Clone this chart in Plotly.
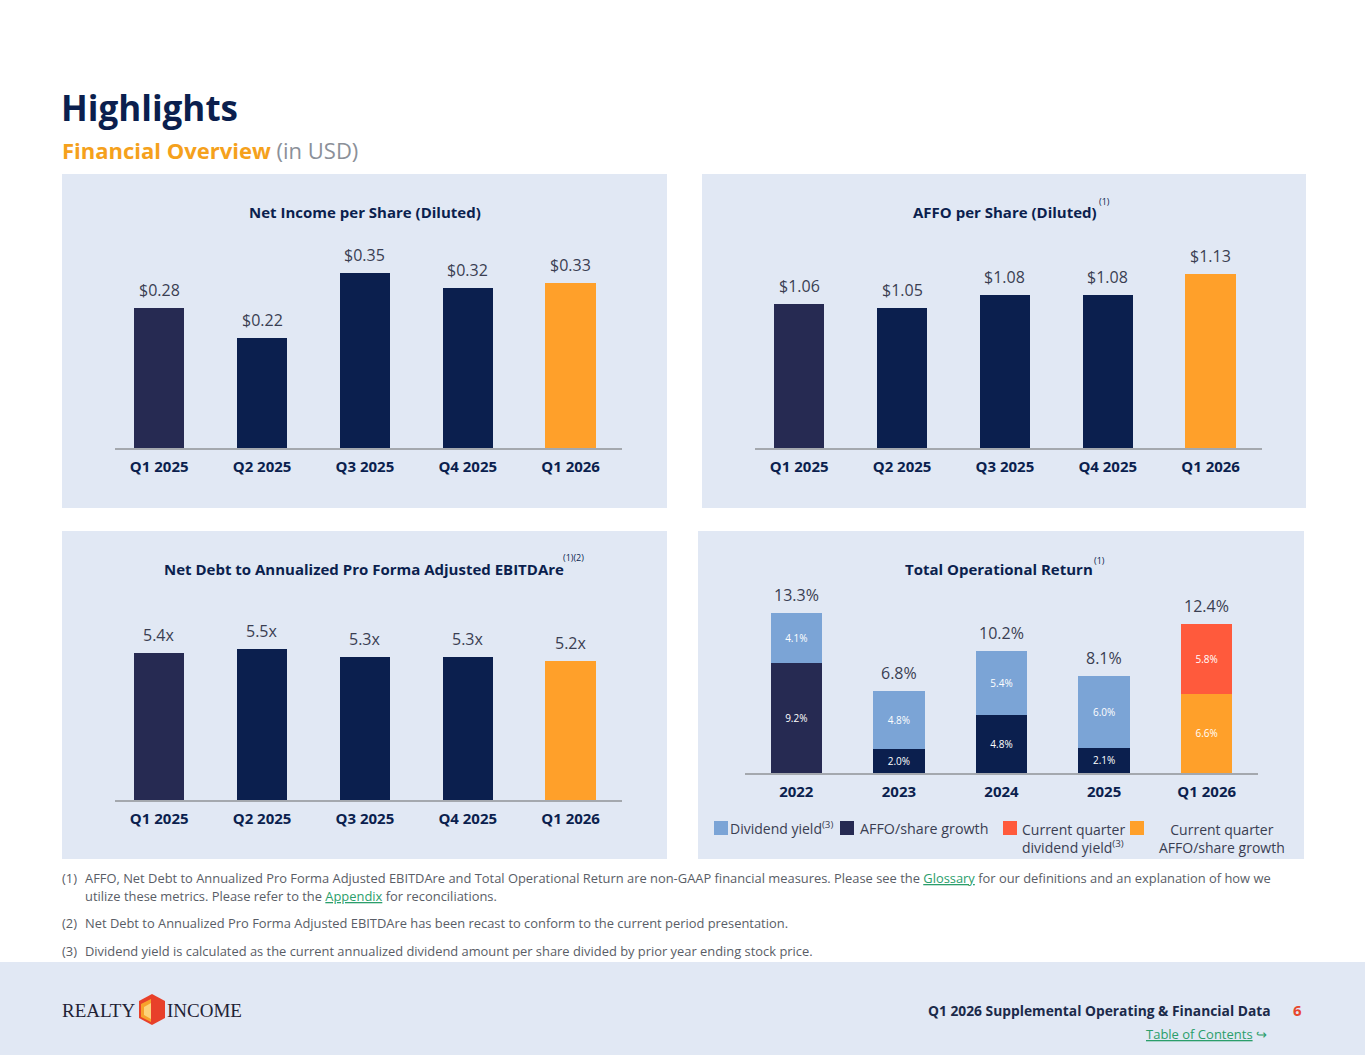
import plotly.graph_objects as go

W, H = 1365, 1055

# ---- data ----
quarters = ["Q1 2025", "Q2 2025", "Q3 2025", "Q4 2025", "Q1 2026"]
net_income = [0.28, 0.22, 0.35, 0.32, 0.33]
affo_per_share = [1.06, 1.05, 1.08, 1.08, 1.13]
net_debt_ratio = [5.4, 5.5, 5.3, 5.3, 5.2]

years = ["2022", "2023", "2024", "2025", "Q1 2026"]
affo_growth = [9.2, 2.0, 4.8, 2.1, 6.6]
dividend_yield = [4.1, 4.8, 5.4, 6.0, 5.8]
total_return = [13.3, 6.8, 10.2, 8.1, 12.4]

# ---- colours ----
NAVY = "#0b1f4e"
DARK = "#262a52"
ORANGE = "#ffa02a"
RED = "#ff5a3c"
LIGHT_BLUE = "#7ba4d6"
PANEL_BG = "#e1e8f4"
TEXT_GRAY = "#3a3e52"
NOTE_GRAY = "#595d66"
GREEN = "#2b9e6b"
FONT = "Open Sans"

bar_colors = [DARK, NAVY, NAVY, NAVY, ORANGE]
growth_colors = [DARK, NAVY, NAVY, NAVY, ORANGE]
yield_colors = [LIGHT_BLUE, LIGHT_BLUE, LIGHT_BLUE, LIGHT_BLUE, RED]


def px(x):
    return x / W


def py(y):
    return 1 - y / H


fig = go.Figure()
annotations = []
shapes = []

# panel backgrounds + footer band
for x0, y0, x1, y1 in [(62, 174, 667, 508), (702, 174, 1306, 508),
                       (62, 531, 667, 859), (698, 531, 1304, 859),
                       (0, 962, 1365, 1055)]:
    shapes.append(dict(type="rect", xref="paper", yref="paper", layer="below",
                       x0=px(x0), x1=px(x1), y0=py(y1), y1=py(y0),
                       fillcolor=PANEL_BG, line=dict(width=0)))


def axis_pair(n, x0, x1, base, top, yrange, xrange=(-0.43, 4.5)):
    sfx = "" if n == 1 else str(n)
    xa = dict(domain=[px(x0), px(x1)], range=list(xrange), anchor="y" + sfx,
              type="category", showgrid=False, zeroline=False,
              showline=True, linecolor="#a4a8ae", linewidth=2,
              ticks="", ticklabelstandoff=4,
              tickfont=dict(family=FONT, size=15, color=NAVY, weight="bold"))
    ya = dict(domain=[py(base), py(top)], range=list(yrange), anchor="x" + sfx,
              visible=False, showgrid=False, zeroline=False)
    return {"xaxis" + sfx: xa, "yaxis" + sfx: ya}


axes = {}
axes.update(axis_pair(1, 115, 622, 448, 248, (0, 0.4)))
axes.update(axis_pair(2, 755, 1262, 448, 248, (0.72, 0.72 + 200 / 425)))
axes.update(axis_pair(3, 115, 622, 800, 600, (1.725, 6.725)))
axes.update(axis_pair(4, 745, 1258, 773, 593, (0, 15), xrange=(-0.5, 4.5)))


def simple_bars(values, labels, xa, ya):
    fig.add_trace(go.Bar(x=quarters, y=values, xaxis=xa, yaxis=ya, width=0.49,
                         marker=dict(color=bar_colors, line=dict(width=0)),
                         hoverinfo="x+y"))
    for i, (v, t) in enumerate(zip(values, labels)):
        annotations.append(dict(xref=xa, yref=ya, x=i, y=v, text=t, showarrow=False,
                                yanchor="bottom", yshift=5,
                                font=dict(family=FONT, size=16, color=TEXT_GRAY)))


simple_bars(net_income, [f"${v:.2f}" for v in net_income], "x", "y")
simple_bars(affo_per_share, [f"${v:.2f}" for v in affo_per_share], "x2", "y2")
simple_bars(net_debt_ratio, [f"{v:.1f}x" for v in net_debt_ratio], "x3", "y3")

# total operational return (stacked)
fig.add_trace(go.Bar(x=years, y=affo_growth, xaxis="x4", yaxis="y4", width=0.5,
                     marker=dict(color=growth_colors, line=dict(width=0)),
                     text=[f"{v:.1f}%" for v in affo_growth], textposition="inside",
                     insidetextanchor="middle", constraintext="none", textangle=0,
                     textfont=dict(family=FONT, size=10, color="white"),
                     name="AFFO/share growth"))
fig.add_trace(go.Bar(x=years, y=dividend_yield, xaxis="x4", yaxis="y4", width=0.5,
                     marker=dict(color=yield_colors, line=dict(width=0)),
                     text=[f"{v:.1f}%" for v in dividend_yield], textposition="inside",
                     insidetextanchor="middle", constraintext="none", textangle=0,
                     textfont=dict(family=FONT, size=10, color="white"),
                     name="Dividend yield"))
for i, v in enumerate(total_return):
    annotations.append(dict(xref="x4", yref="y4", x=i, y=v, text=f"{v:.1f}%",
                            showarrow=False, yanchor="bottom", yshift=5,
                            font=dict(family=FONT, size=16, color=TEXT_GRAY)))


def paper_text(x, y, text, size, color=TEXT_GRAY, anchor="center", bold=False, family=FONT):
    annotations.append(dict(xref="paper", yref="paper", x=px(x), y=py(y), text=text,
                            showarrow=False, xanchor=anchor, yanchor="middle",
                            align=anchor if anchor != "center" else "center",
                            font=dict(family=family, size=size, color=color,
                                      weight="bold" if bold else "normal")))


# headings
paper_text(59, 108, "Highlights", 35, NAVY, "left", True)
paper_text(60, 150, "<b>Financial Overview</b> <span style='color:#8b9099'>(in USD)</span>",
           22, "#f5a11c", "left")

# panel titles
paper_text(364.5, 212, "Net Income per Share (Diluted)", 15, NAVY, bold=True)
paper_text(1005, 212, "AFFO per Share (Diluted)", 15, NAVY, bold=True)
paper_text(1097, 202, "(1)", 9, NAVY, "left")
paper_text(364, 569, "Net Debt to Annualized Pro Forma Adjusted EBITDAre", 15, NAVY, bold=True)
paper_text(561, 557, "(1)(2)", 9, NAVY, "left")
paper_text(999, 569, "Total Operational Return", 15, NAVY, bold=True)
paper_text(1092, 560, "(1)", 9, NAVY, "left")

# legend for the stacked panel
for x0, col in [(714, LIGHT_BLUE), (840, DARK), (1003, RED), (1130, ORANGE)]:
    shapes.append(dict(type="rect", xref="paper", yref="paper",
                       x0=px(x0), x1=px(x0 + 14), y0=py(835), y1=py(821),
                       fillcolor=col, line=dict(width=0)))
paper_text(728, 828, "Dividend yield<sup>(3)</sup>", 14, TEXT_GRAY, "left")
paper_text(858, 828, "AFFO/share growth", 14.3, TEXT_GRAY, "left")
paper_text(1020, 838, "Current quarter<br>dividend yield<sup>(3)</sup>", 14, TEXT_GRAY, "left")
paper_text(1222, 838, "Current quarter<br>AFFO/share growth", 14, TEXT_GRAY, "center")

# footnotes
link = "<span style='color:%s'><u>%s</u></span>"
notes = [
    (878, "(1)", "AFFO, Net Debt to Annualized Pro Forma Adjusted EBITDAre and Total Operational Return are non-GAAP "
                 "financial measures. Please see the " + link % (GREEN, "Glossary") +
                 " for our definitions and an explanation of how we"),
    (896, "", "utilize these metrics. Please refer to the " + link % (GREEN, "Appendix") + " for reconciliations."),
    (923, "(2)", "Net Debt to Annualized Pro Forma Adjusted EBITDAre has been recast to conform to the current period presentation."),
    (951, "(3)", "Dividend yield is calculated as the current annualized dividend amount per share divided by prior year ending stock price."),
]
for y, num, txt in notes:
    if num:
        paper_text(60, y, num, 12.9, NOTE_GRAY, "left")
    paper_text(83, y, txt, 12.9, NOTE_GRAY, "left")

# footer
paper_text(60, 1010, "REALTY", 19, "#1f2235", "left", family="Liberation Serif")
paper_text(165, 1010, "INCOME", 19, "#1f2235", "left", family="Liberation Serif")


def path(points):
    return "M " + " L ".join(f"{px(a):.5f},{py(b):.5f}" for a, b in points) + " Z"


shapes.append(dict(type="path", xref="paper", yref="paper", fillcolor="#e8402a", line=dict(width=0),
                   path=path([(139, 1001), (152, 994), (165, 1001), (165, 1018), (152, 1025), (139, 1018)])))
shapes.append(dict(type="path", xref="paper", yref="paper", fillcolor="#f7a12b", line=dict(width=0),
                   path=path([(141, 1004), (151, 999), (151, 1022), (141, 1017)])))
shapes.append(dict(type="path", xref="paper", yref="paper", fillcolor="#fcd27a", line=dict(width=0),
                   path=path([(144, 1007), (151, 1003), (151, 1019), (144, 1015)])))

paper_text(1273, 1010, "Q1 2026 Supplemental Operating &amp; Financial Data", 13.8, "#1b2a4a", "right", True)
paper_text(1304, 1010, "6", 15, "#e8472e", "right", True)
paper_text(1269, 1034, "<u>Table of Contents</u> ↪", 13, GREEN, "right")

fig.update_layout(
    width=W, height=H,
    margin=dict(l=0, r=0, t=0, b=0),
    paper_bgcolor="white", plot_bgcolor="rgba(0,0,0,0)",
    barmode="stack", showlegend=False,
    font=dict(family=FONT, color=TEXT_GRAY),
    annotations=annotations, shapes=shapes,
    **axes,
)

fig.write_html("out.html", config={"displayModeBar": False},
               post_script="document.body.style.margin='0';")
